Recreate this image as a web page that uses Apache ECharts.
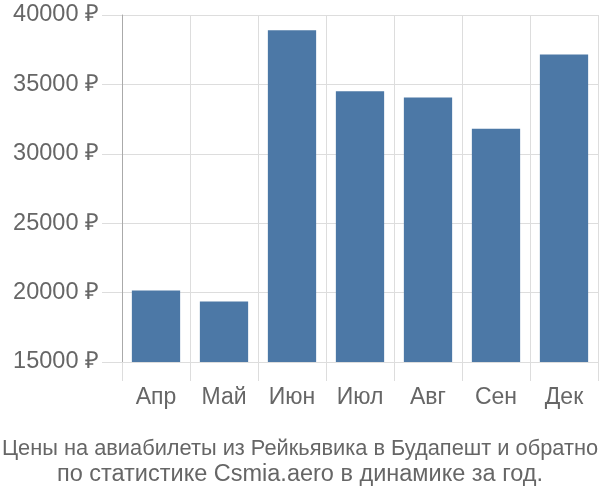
<!DOCTYPE html>
<html><head><meta charset="utf-8">
<script src="https://cdn.jsdelivr.net/npm/echarts@6/dist/echarts.min.js"></script>
<style>html,body{margin:0;padding:0;background:#fff}#c{width:600px;height:500px}</style>
</head><body><div id="c"></div>
<script>
const categories = ["Апр","Май","Июн","Июл","Авг","Сен","Дек"];
const prices = [20150, 19350, 38900, 34500, 34050, 31800, 37150];
const yTicks = [15000, 20000, 25000, 30000, 35000, 40000];
const titleLines = ["Цены на авиабилеты из Рейкьявика в Будапешт и обратно","по статистике Csmia.aero в динамике за год."];

const chart = echarts.init(document.getElementById('c'));
chart.setOption({
  animation:false,
  title:{
    text: '{a|' + titleLines[0] + '}\n{b|' + titleLines[1] + '}',
    left:'center', top:431,
    textStyle:{
      fontWeight:'normal',
      rich:{
        a:{fontFamily:'Liberation Sans, Arial', fontSize:21.8, fontWeight:'normal', color:'#666', lineHeight:26},
        b:{fontFamily:'Liberation Sans, Arial', fontSize:23.5, fontWeight:'normal', color:'#666', lineHeight:26}
      }
    }
  },
  grid:{left:122, right:2, top:15, bottom:138, containLabel:false},
  xAxis:{
    type:'category', data:categories,
    axisLine:{show:true, lineStyle:{color:'#ddd', width:1}},
    axisTick:{show:true, length:19, lineStyle:{color:'#ddd'}},
    splitLine:{show:true, lineStyle:{color:'#ddd'}},
    axisLabel:{fontFamily:'Liberation Sans, Arial', fontSize:23, color:'#666', margin:24}
  },
  yAxis:{
    type:'value', min:yTicks[0], max:yTicks[yTicks.length-1], interval:5000,
    axisLine:{show:true, lineStyle:{color:'#aaa', width:1}},
    axisTick:{show:true, length:20, lineStyle:{color:'#ddd'}},
    splitLine:{show:true, lineStyle:{color:'#ddd'}},
    axisLabel:{fontFamily:'Liberation Sans, Arial', fontSize:23.5, color:'#666', margin:23,
      formatter: v => v + ' ₽'}
  },
  series:[{
    type:'bar', data:prices, barCategoryGap:'29%',
    itemStyle:{color:'#4c78a6'}
  }]
});
</script></body></html>
